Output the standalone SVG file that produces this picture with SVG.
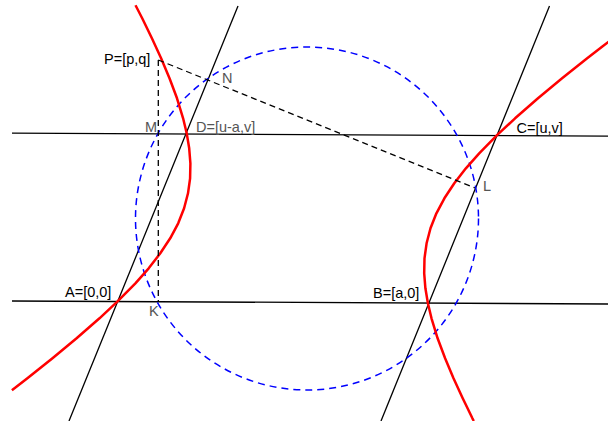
<svg xmlns="http://www.w3.org/2000/svg" width="608" height="421" viewBox="0 0 608 421">
<style>
.ln{stroke:#000;stroke-width:1.3;fill:none}
.dsh{stroke:#000;stroke-width:1.3;fill:none;stroke-dasharray:6,4}
.circ{stroke:#0000ff;stroke-width:1.5;fill:none;stroke-dasharray:7,5}
.hyp{stroke:#ff0000;stroke-width:2.5;fill:none;stroke-linejoin:round}
.lb{font-family:"Liberation Sans",Arial,sans-serif;font-size:14.5px;fill:#000}
.lg{font-family:"Liberation Sans",Arial,sans-serif;font-size:14.5px;fill:#555}
</style>
<rect width="608" height="421" fill="#fff"/>
<g id="connectors">
<line class="ln" x1="12" y1="133.2" x2="608" y2="136.2"/>
<line class="ln" x1="12" y1="301" x2="608" y2="304"/>
<line class="ln" x1="69" y1="421" x2="238" y2="6"/>
<line class="ln" x1="381" y1="421" x2="549.5" y2="6"/>
<circle class="circ" cx="307" cy="218.5" r="171.5"/>
<path class="hyp" d="M135.5,5.3 L142.2,18.3 L151.9,38.3 L161.1,58.3 L169.5,78.3 L177,98.3 L183.1,118.3 L186.7,133.3 L189.2,148.3 L190.4,163.3 L190.1,178.3 L188,193.3 L184.1,208.3 L178.2,223.3 L170.2,238.3 L160.3,253.3 L148.7,268.3 L135.4,283.3 L117.3,301.7 L99.5,318.3 L76.6,338.3 L52.5,358.3 L27.4,378.3 L11.9,390.3"/>
<path class="hyp" d="M608.7,41.7 L602.7,46.3 L587.2,58.3 L562.1,78.3 L538,98.3 L515.1,118.3 L497.3,134.9 L479.2,153.3 L465.9,168.3 L454.3,183.3 L444.4,198.3 L436.4,213.3 L430.5,228.3 L426.6,243.3 L424.5,258.3 L424.2,273.3 L425.4,288.3 L427.9,303.3 L431.5,318.3 L437.6,338.3 L445.1,358.3 L453.5,378.3 L462.7,398.3 L472.4,418.3 L473.8,421"/>
<line class="dsh" x1="158.3" y1="60" x2="158.3" y2="302"/>
<line class="dsh" x1="158.3" y1="60" x2="475" y2="188"/>
</g>
<g id="P"><text class="lb" x="104" y="64">P=[p,q]</text></g>
<g id="N"><text class="lg" x="222" y="83">N</text></g>
<g id="M"><text class="lg" x="145" y="132">M</text></g>
<g id="D"><text class="lg" x="196" y="132">D=[u-a,v]</text></g>
<g id="C"><text class="lb" x="516.5" y="133">C=[u,v]</text></g>
<g id="L"><text class="lg" x="483" y="191">L</text></g>
<g id="A"><text class="lb" x="65" y="297">A=[0,0]</text></g>
<g id="K"><text class="lg" x="149" y="316">K</text></g>
<g id="B"><text class="lb" x="373" y="298">B=[a,0]</text></g>
</svg>
